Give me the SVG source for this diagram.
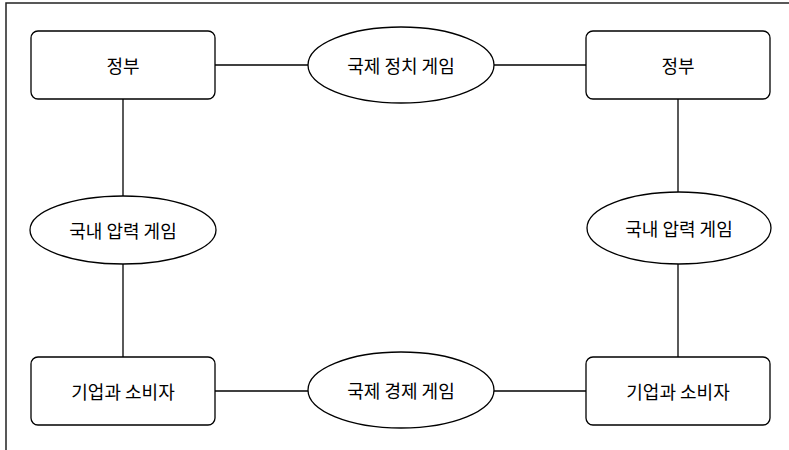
<svg xmlns="http://www.w3.org/2000/svg" width="789" height="450" viewBox="0 0 789 450">
<style>
.box{fill:#fff;stroke:#000;stroke-width:1.3}
.ell{fill:#fff;stroke:#000;stroke-width:1.3}
.lbl{font-family:"Noto Sans CJK KR","Noto Sans",sans-serif;font-size:18px;fill:#000;text-anchor:middle;dominant-baseline:central}
.ln{stroke:#000;stroke-width:1.3;fill:none}
</style>
<rect x="0" y="0" width="789" height="450" fill="#fff"/>
<rect x="6" y="3" width="820" height="480" fill="none" stroke="#222" stroke-width="1.5"/>
<g id="connectors">
<line class="ln" x1="215" y1="65" x2="308" y2="65"/>
<line class="ln" x1="494" y1="65" x2="586" y2="65"/>
<line class="ln" x1="215" y1="391" x2="308" y2="391"/>
<line class="ln" x1="494" y1="391" x2="586" y2="391"/>
<line class="ln" x1="123" y1="99" x2="123" y2="197"/>
<line class="ln" x1="123" y1="264" x2="123" y2="357"/>
<line class="ln" x1="678" y1="99" x2="678" y2="192"/>
<line class="ln" x1="678" y1="264" x2="678" y2="357"/>
</g>
<g id="gov-left"><rect class="box" x="31" y="31" width="184" height="68" rx="7"/><text class="lbl" x="123" y="65">정부</text></g>
<g id="gov-right"><rect class="box" x="586" y="31" width="184" height="68" rx="7"/><text class="lbl" x="678" y="65">정부</text></g>
<g id="firms-left"><rect class="box" x="31" y="357" width="184" height="68" rx="7"/><text class="lbl" x="123" y="391">기업과 소비자</text></g>
<g id="firms-right"><rect class="box" x="586" y="357" width="184" height="68" rx="7"/><text class="lbl" x="678" y="391">기업과 소비자</text></g>
<g id="intl-politics"><ellipse class="ell" cx="401" cy="65" rx="93" ry="38"/><text class="lbl" x="401" y="65">국제 정치 게임</text></g>
<g id="intl-economy"><ellipse class="ell" cx="401" cy="390" rx="93" ry="38"/><text class="lbl" x="401" y="390">국제 경제 게임</text></g>
<g id="domestic-left"><ellipse class="ell" cx="123" cy="230" rx="93" ry="34"/><text class="lbl" x="123" y="230">국내 압력 게임</text></g>
<g id="domestic-right"><ellipse class="ell" cx="679" cy="228" rx="92" ry="36"/><text class="lbl" x="679" y="228">국내 압력 게임</text></g>
</svg>
